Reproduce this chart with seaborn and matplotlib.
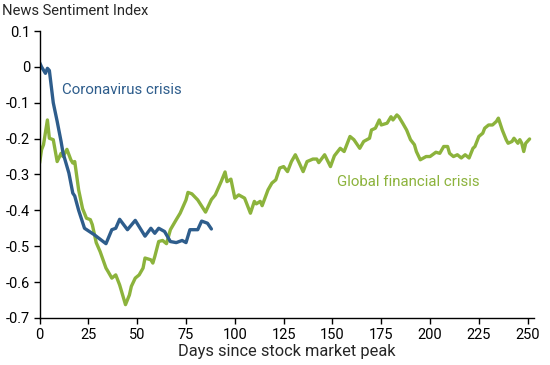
import pandas as pd
import matplotlib
matplotlib.use("Agg")
import matplotlib.pyplot as plt
import seaborn as sns

sns.set_style("white")
plt.rcParams["font.family"] = ["Roboto", "DejaVu Sans"]

# values
covid_days = [0, 1, 3, 4, 5, 7, 9, 11, 12, 15, 17, 18, 20, 23, 28, 34, 37, 39, 41,
              45, 49, 54, 57, 59, 61, 64, 67, 70, 73, 75, 77, 81, 83, 86, 88]
covid_index = [0.012, 0.0, -0.018, -0.004, -0.01, -0.10, -0.152, -0.208, -0.24, -0.296,
               -0.352, -0.36, -0.40, -0.45, -0.468, -0.493, -0.454, -0.45, -0.425,
               -0.454, -0.428, -0.472, -0.45, -0.464, -0.45, -0.459, -0.487, -0.49,
               -0.484, -0.49, -0.454, -0.454, -0.43, -0.436, -0.452]

gfc_days = [0, 1, 2, 4, 5, 7, 9, 11, 12, 14, 16, 17, 18, 20, 22, 24, 26, 27, 29, 31,
            34, 35, 37, 39, 41, 42, 44, 46, 47, 49, 51, 53, 54, 57, 58, 59, 61, 63,
            65, 67, 70, 72, 75, 76, 78, 81, 85, 88, 90, 93, 95, 96, 98, 100, 102,
            105, 106, 108, 110, 111, 113, 114, 117, 119, 121, 123, 125, 127, 129,
            131, 133, 135, 137, 140, 142, 143, 146, 149, 151, 154, 156, 159, 161,
            164, 166, 169, 170, 172, 174, 175, 178, 180, 181, 183, 184, 186, 188,
            190, 192, 193, 195, 198, 200, 203, 205, 207, 209, 210, 212, 214, 216,
            218, 220, 222, 223, 225, 227, 228, 230, 232, 234, 235, 237, 239, 240,
            242, 243, 245, 246, 247, 248, 249, 251]
gfc_index = [-0.268, -0.231, -0.217, -0.148, -0.199, -0.203, -0.264, -0.241, -0.25,
             -0.23, -0.259, -0.268, -0.264, -0.343, -0.395, -0.422, -0.426, -0.44,
             -0.49, -0.515, -0.561, -0.57, -0.589, -0.58, -0.608, -0.626, -0.663,
             -0.636, -0.612, -0.589, -0.58, -0.561, -0.533, -0.538, -0.547, -0.529,
             -0.487, -0.484, -0.493, -0.454, -0.426, -0.408, -0.371, -0.35, -0.354,
             -0.371, -0.405, -0.37, -0.357, -0.32, -0.293, -0.32, -0.313, -0.366,
             -0.357, -0.366, -0.38, -0.408, -0.375, -0.382, -0.375, -0.387, -0.343,
             -0.324, -0.315, -0.282, -0.278, -0.292, -0.264, -0.245, -0.268, -0.292,
             -0.264, -0.257, -0.257, -0.267, -0.245, -0.278, -0.248, -0.227, -0.236,
             -0.194, -0.203, -0.227, -0.208, -0.199, -0.176, -0.171, -0.148, -0.162,
             -0.157, -0.139, -0.148, -0.134, -0.139, -0.157, -0.176, -0.203, -0.217,
             -0.236, -0.259, -0.25, -0.25, -0.238, -0.241, -0.222, -0.222, -0.241,
             -0.25, -0.245, -0.254, -0.245, -0.254, -0.227, -0.222, -0.194, -0.185,
             -0.171, -0.162, -0.162, -0.152, -0.143, -0.176, -0.203, -0.213, -0.208,
             -0.199, -0.213, -0.203, -0.213, -0.236, -0.213, -0.201]

y_ticks = [0.1, 0, -0.1, -0.2, -0.3, -0.4, -0.5, -0.6, -0.7]
y_tick_labels = ["0.1", "0", "-0.1", "-0.2", "-0.3", "-0.4", "-0.5", "-0.6", "-0.7"]
x_ticks = [0, 25, 50, 75, 100, 125, 150, 175, 200, 225, 250]

blue = "#2e5d8c"
green = "#8cb33c"

covid_df = pd.DataFrame({"day": covid_days, "index": covid_index})
gfc_df = pd.DataFrame({"day": gfc_days, "index": gfc_index})

fig = plt.figure(figsize=(5.5, 3.65), dpi=100)
ax = fig.add_axes([0.072, 0.129, 0.898, 0.786])

sns.lineplot(data=gfc_df, x="day", y="index", color=green, linewidth=2.4, ax=ax)
sns.lineplot(data=covid_df, x="day", y="index", color=blue, linewidth=2.4, ax=ax)

ax.set_xlim(0, 253)
ax.set_ylim(-0.7, 0.1)
ax.set_yticks(y_ticks)
ax.set_yticklabels(y_tick_labels)
ax.set_xticks(x_ticks)
ax.tick_params(axis="both", direction="out", length=4, width=1, color="black",
               labelsize=10.5, labelcolor="black", pad=3, left=True, bottom=True)
sns.despine(ax=ax)
for side in ["left", "bottom"]:
    ax.spines[side].set_color("black")
    ax.spines[side].set_linewidth(1)

ax.set_xlabel("Days since stock market peak", fontsize=11.8, labelpad=2)
ax.set_ylabel("")

ax.text(11.4, -0.064, "Coronavirus crisis", color=blue, fontsize=10.8, va="center", ha="left")
ax.text(152.5, -0.32, "Global financial crisis", color=green, fontsize=10.8, va="center", ha="left")

fig.text(0.004, 0.99, "News Sentiment Index", fontsize=10.6, va="top", ha="left")

fig.savefig("out.png", dpi=100)
